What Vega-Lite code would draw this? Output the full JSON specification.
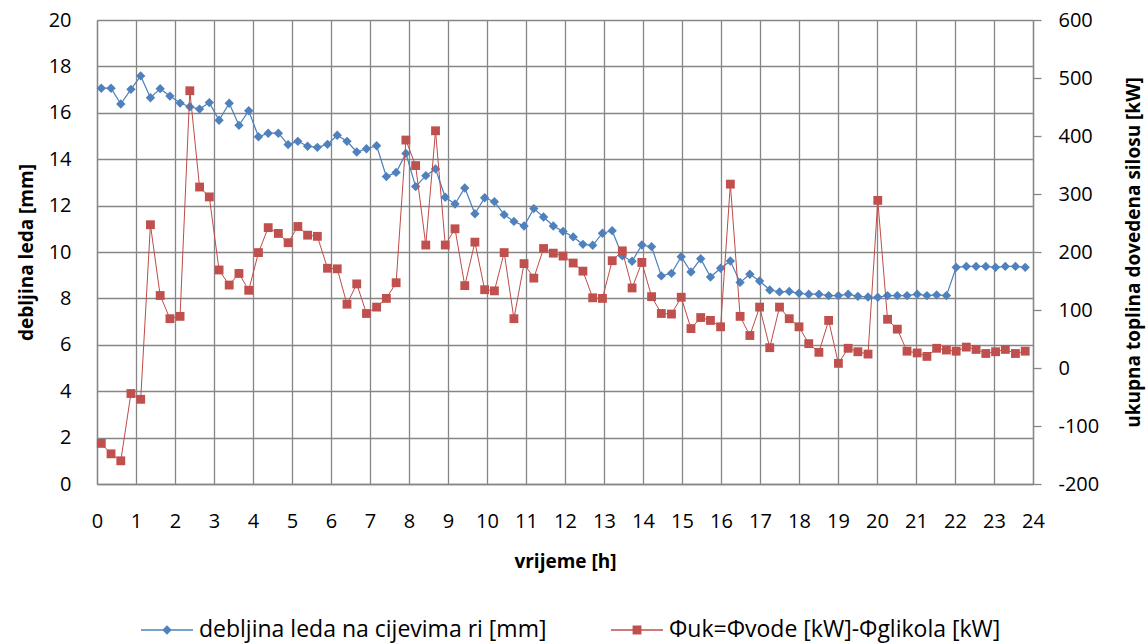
{
  "$schema": "https://vega.github.io/schema/vega-lite/v6.json",
  "width": 936,
  "height": 464,
  "autosize": {"type": "none"},
  "padding": {"left": 97, "top": 20, "right": 115, "bottom": 160},
  "data": {
    "values": [
      {"t": 0.11, "led": 17.06, "phi": -130}, {"t": 0.36, "led": 17.06, "phi": -148}, {"t": 0.61, "led": 16.38, "phi": -160},
      {"t": 0.87, "led": 17.01, "phi": -44}, {"t": 1.12, "led": 17.59, "phi": -54}, {"t": 1.37, "led": 16.65, "phi": 247},
      {"t": 1.62, "led": 17.04, "phi": 125}, {"t": 1.87, "led": 16.72, "phi": 85}, {"t": 2.13, "led": 16.42, "phi": 89},
      {"t": 2.38, "led": 16.26, "phi": 478}, {"t": 2.63, "led": 16.16, "phi": 312}, {"t": 2.88, "led": 16.44, "phi": 295},
      {"t": 3.13, "led": 15.68, "phi": 169}, {"t": 3.39, "led": 16.41, "phi": 143}, {"t": 3.64, "led": 15.46, "phi": 163},
      {"t": 3.89, "led": 16.09, "phi": 134}, {"t": 4.14, "led": 14.97, "phi": 199}, {"t": 4.39, "led": 15.12, "phi": 242},
      {"t": 4.65, "led": 15.12, "phi": 232}, {"t": 4.90, "led": 14.63, "phi": 216}, {"t": 5.15, "led": 14.77, "phi": 244},
      {"t": 5.40, "led": 14.56, "phi": 229}, {"t": 5.65, "led": 14.51, "phi": 227}, {"t": 5.91, "led": 14.64, "phi": 172},
      {"t": 6.16, "led": 15.03, "phi": 171}, {"t": 6.41, "led": 14.77, "phi": 110}, {"t": 6.66, "led": 14.31, "phi": 145},
      {"t": 6.91, "led": 14.45, "phi": 94}, {"t": 7.17, "led": 14.58, "phi": 105}, {"t": 7.42, "led": 13.25, "phi": 120},
      {"t": 7.67, "led": 13.43, "phi": 147}, {"t": 7.92, "led": 14.25, "phi": 393}, {"t": 8.17, "led": 12.82, "phi": 349},
      {"t": 8.43, "led": 13.29, "phi": 212}, {"t": 8.68, "led": 13.58, "phi": 409}, {"t": 8.93, "led": 12.36, "phi": 212},
      {"t": 9.18, "led": 12.07, "phi": 240}, {"t": 9.43, "led": 12.76, "phi": 142}, {"t": 9.69, "led": 11.65, "phi": 217},
      {"t": 9.94, "led": 12.34, "phi": 135}, {"t": 10.19, "led": 12.17, "phi": 133}, {"t": 10.44, "led": 11.61, "phi": 199},
      {"t": 10.69, "led": 11.32, "phi": 85}, {"t": 10.95, "led": 11.12, "phi": 180}, {"t": 11.20, "led": 11.87, "phi": 155},
      {"t": 11.45, "led": 11.51, "phi": 206}, {"t": 11.70, "led": 11.12, "phi": 198}, {"t": 11.95, "led": 10.89, "phi": 193},
      {"t": 12.21, "led": 10.65, "phi": 181}, {"t": 12.46, "led": 10.33, "phi": 167}, {"t": 12.71, "led": 10.29, "phi": 121},
      {"t": 12.96, "led": 10.81, "phi": 120}, {"t": 13.21, "led": 10.92, "phi": 185}, {"t": 13.47, "led": 9.83, "phi": 202},
      {"t": 13.72, "led": 9.60, "phi": 138}, {"t": 13.97, "led": 10.30, "phi": 182}, {"t": 14.22, "led": 10.23, "phi": 123},
      {"t": 14.47, "led": 8.97, "phi": 94}, {"t": 14.73, "led": 9.08, "phi": 93}, {"t": 14.98, "led": 9.80, "phi": 122},
      {"t": 15.23, "led": 9.14, "phi": 68}, {"t": 15.48, "led": 9.71, "phi": 87}, {"t": 15.73, "led": 8.92, "phi": 82},
      {"t": 15.99, "led": 9.30, "phi": 71}, {"t": 16.24, "led": 9.61, "phi": 317}, {"t": 16.49, "led": 8.69, "phi": 89},
      {"t": 16.74, "led": 9.04, "phi": 56}, {"t": 16.99, "led": 8.75, "phi": 105}, {"t": 17.25, "led": 8.36, "phi": 35},
      {"t": 17.50, "led": 8.28, "phi": 105}, {"t": 17.75, "led": 8.30, "phi": 85}, {"t": 18.00, "led": 8.22, "phi": 71},
      {"t": 18.25, "led": 8.18, "phi": 42}, {"t": 18.51, "led": 8.18, "phi": 27}, {"t": 18.76, "led": 8.12, "phi": 82},
      {"t": 19.01, "led": 8.12, "phi": 8}, {"t": 19.26, "led": 8.18, "phi": 34}, {"t": 19.51, "led": 8.09, "phi": 28},
      {"t": 19.77, "led": 8.06, "phi": 24}, {"t": 20.02, "led": 8.05, "phi": 289}, {"t": 20.27, "led": 8.12, "phi": 84},
      {"t": 20.52, "led": 8.12, "phi": 67}, {"t": 20.77, "led": 8.12, "phi": 29}, {"t": 21.03, "led": 8.18, "phi": 26},
      {"t": 21.28, "led": 8.12, "phi": 20}, {"t": 21.53, "led": 8.15, "phi": 34}, {"t": 21.78, "led": 8.12, "phi": 31},
      {"t": 22.03, "led": 9.34, "phi": 29}, {"t": 22.29, "led": 9.38, "phi": 36}, {"t": 22.54, "led": 9.38, "phi": 32},
      {"t": 22.79, "led": 9.38, "phi": 25}, {"t": 23.04, "led": 9.34, "phi": 28}, {"t": 23.29, "led": 9.38, "phi": 32},
      {"t": 23.55, "led": 9.38, "phi": 25}, {"t": 23.80, "led": 9.34, "phi": 29}
    ]
  },
  "transform": [{"fold": ["led", "phi"], "as": ["s", "v"]}],
  "encoding": {
    "x": {
      "field": "t",
      "type": "quantitative",
      "scale": {"domain": [0, 24], "nice": false, "zero": false},
      "axis": {
        "title": "vrijeme [h]",
        "values": [0, 1, 2, 3, 4, 5, 6, 7, 8, 9, 10, 11, 12, 13, 14, 15, 16, 17, 18, 19, 20, 21, 22, 23, 24],
        "grid": true,
        "ticks": false,
        "labelPadding": 27,
        "labelFlush": false,
        "labelOverlap": false,
        "titleY": 83,
        "titleBaseline": "alphabetic"
      }
    }
  },
  "layer": [
    {
      "transform": [{"filter": "datum.s == 'led'"}],
      "encoding": {
        "y": {
          "field": "v",
          "type": "quantitative",
          "scale": {"domain": [0, 20], "nice": false},
          "axis": {
            "title": "debljina leda [mm]",
            "values": [0, 2, 4, 6, 8, 10, 12, 14, 16, 18, 20],
            "grid": true,
            "ticks": false,
            "labelPadding": 26,
            "titleX": -65,
            "titleBaseline": "alphabetic"
          }
        }
      },
      "layer": [
        {"mark": {"type": "line", "color": "#4A7EBB", "strokeWidth": 1.2}},
        {
          "mark": {
            "type": "point",
            "filled": true,
            "opacity": 1,
            "size": 2704,
            "color": "#4F81BD",
            "shape": "M0,-0.18L0.18,0L0,0.18L-0.18,0Z"
          }
        },
        {
          "mark": {"type": "point", "filled": true, "size": 2704, "opacity": 0},
          "encoding": {
            "color": {
              "field": "s",
              "type": "nominal",
              "scale": {"domain": ["led", "phi"], "range": ["#4F81BD", "#C0504D"]},
              "legend": {
                "symbolOpacity": 1,
                "labelExpr": "datum.value == 'led' ? 'debljina leda na cijevima ri [mm]' : 'Φuk=Φvode [kW]-Φglikola [kW]'"
              }
            },
            "shape": {
              "field": "s",
              "type": "nominal",
              "scale": {
                "domain": ["led", "phi"],
                "range": [
                  "M-1,-0.03H1V0.03H-1ZM0,-0.18L0.18,0L0,0.18L-0.18,0Z",
                  "M-1,-0.03H1V0.03H-1ZM-0.17,-0.17H0.17V0.17H-0.17Z"
                ]
              },
              "legend": {
                "symbolOpacity": 1,
                "labelExpr": "datum.value == 'led' ? 'debljina leda na cijevima ri [mm]' : 'Φuk=Φvode [kW]-Φglikola [kW]'"
              }
            }
          }
        }
      ]
    },
    {
      "transform": [{"filter": "datum.s == 'phi'"}],
      "encoding": {
        "y": {
          "field": "v",
          "type": "quantitative",
          "scale": {"domain": [-200, 600], "nice": false, "zero": false},
          "axis": {
            "orient": "right",
            "title": "ukupna toplina dovedena silosu [kW]",
            "values": [-200, -100, 0, 100, 200, 300, 400, 500, 600],
            "labelExpr": "datum.value < 0 ? '-' + abs(datum.value) : '' + datum.value",
            "grid": false,
            "ticks": true,
            "tickSize": 8,
            "labelPadding": 17,
            "titleAngle": 270,
            "titleX": 106,
            "titleBaseline": "alphabetic"
          }
        }
      },
      "layer": [
        {"mark": {"type": "line", "color": "#BE4B48", "strokeWidth": 1}},
        {
          "mark": {
            "type": "point",
            "filled": true,
            "opacity": 1,
            "size": 2704,
            "color": "#C0504D",
            "shape": "M-0.17,-0.17H0.17V0.17H-0.17Z"
          }
        }
      ]
    }
  ],
  "resolve": {"scale": {"y": "independent"}},
  "config": {
    "font": "Open Sans",
    "view": {"stroke": null},
    "axis": {
      "domainColor": "#868686",
      "domainWidth": 1.3,
      "gridColor": "#868686",
      "gridWidth": 1.3,
      "gridOpacity": 1,
      "tickColor": "#868686",
      "tickWidth": 1.3,
      "labelFont": "Open Sans",
      "labelFontSize": 20,
      "labelColor": "#000000",
      "titleFont": "Open Sans",
      "titleFontSize": 19,
      "titleFontWeight": "bold",
      "titleColor": "#000000"
    },
    "legend": {
      "orient": "none",
      "legendX": 44,
      "legendY": 584,
      "direction": "horizontal",
      "title": null,
      "padding": 0,
      "symbolSize": 2704,
      "symbolStrokeWidth": 0,
      "labelFont": "Open Sans",
      "labelFontSize": 23,
      "labelColor": "#000000",
      "labelOffset": 6,
      "labelLimit": 600,
      "columnPadding": 64
    }
  }
}
